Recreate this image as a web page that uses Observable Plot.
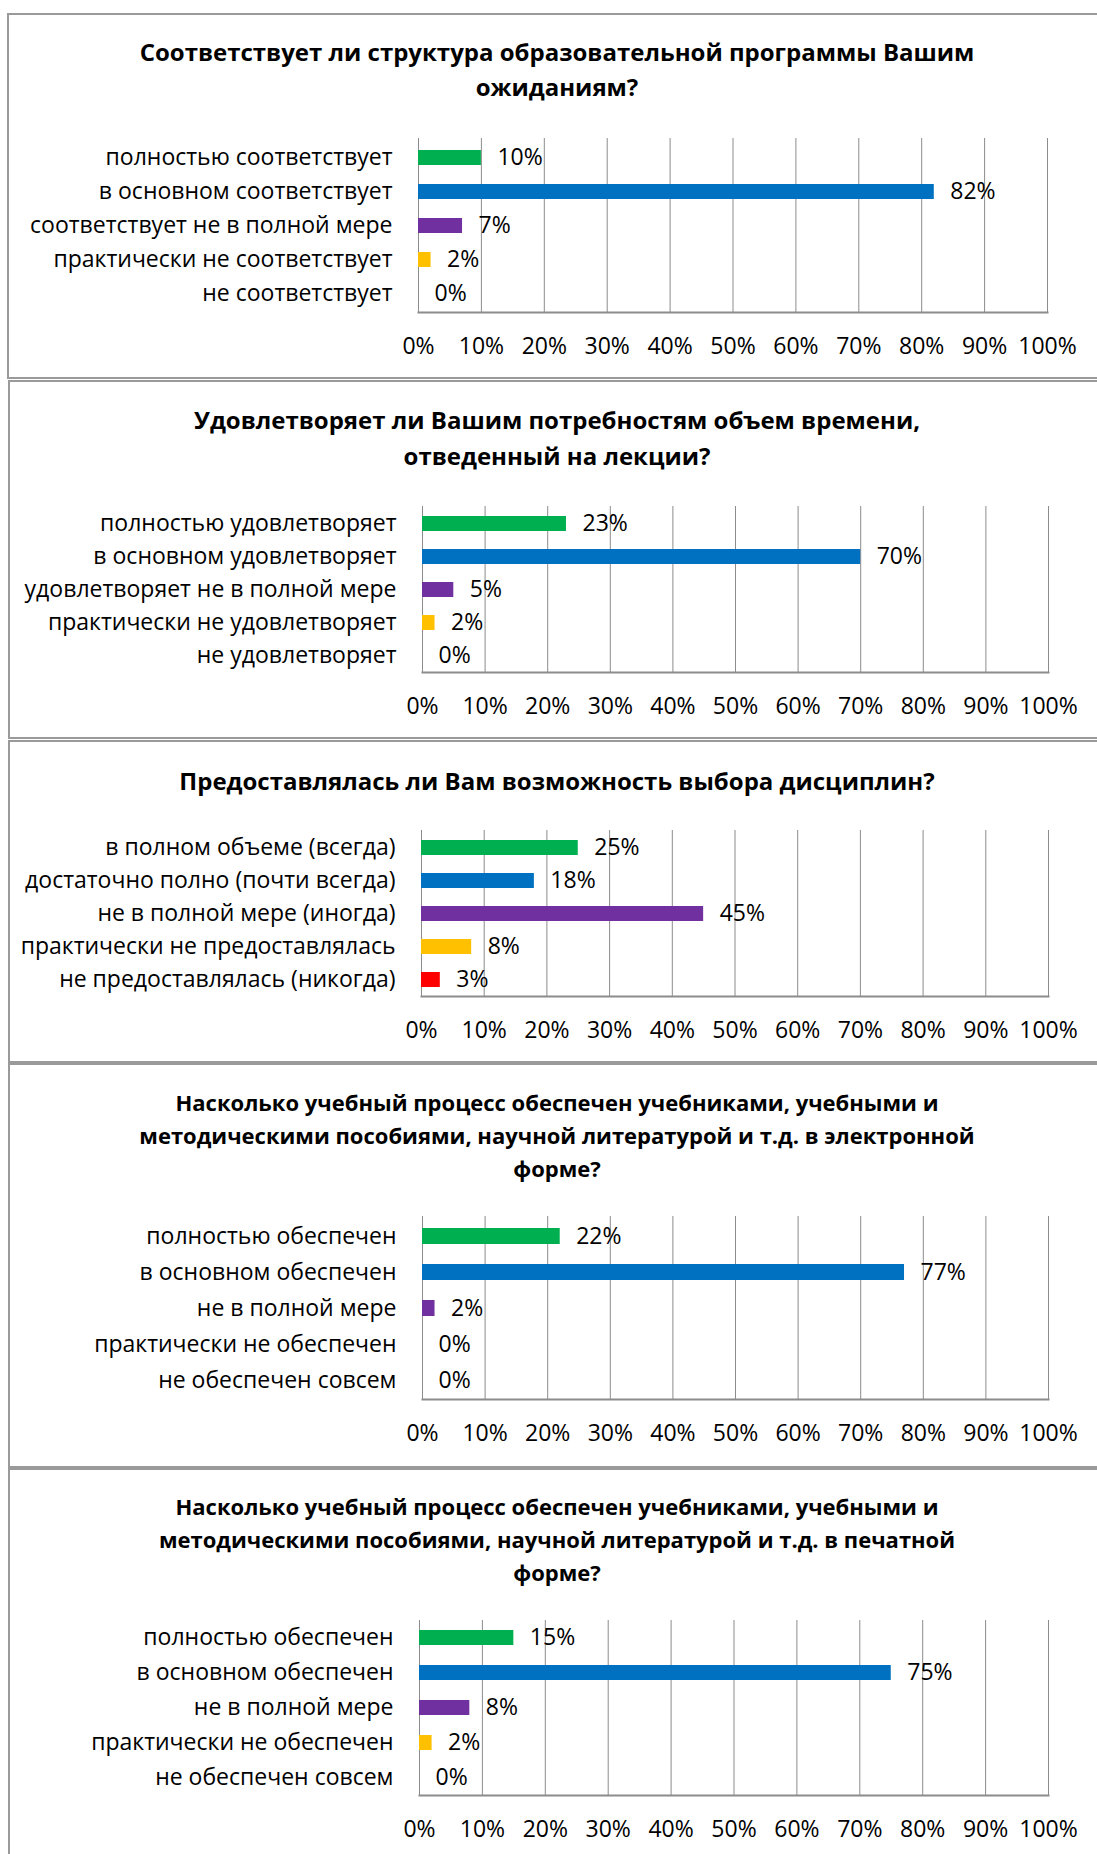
<!DOCTYPE html>
<html>
<head>
<meta charset="utf-8">
<script src="https://cdn.jsdelivr.net/npm/d3@7"></script>
<script src="https://cdn.jsdelivr.net/npm/@observablehq/plot@0.6"></script>
<style>
  body { margin: 0; background: #fff; }
  #root { position: relative; width: 1097px; height: 1854px; overflow: hidden; background: #fff; font-family: "Open Sans", sans-serif; color: #000; }
  .box { position: absolute; border: 2px solid #9a9a9a; box-sizing: border-box; }
  .title { position: absolute; left: 0; width: 1114px; text-align: center; font-weight: bold; white-space: pre; }
  .chart { position: absolute; left: 0; }
</style>
</head>
<body>
<div id="root"></div>
<script>
// ---- data ----
const ticks = [0, 10, 20, 30, 40, 50, 60, 70, 80, 90, 100];
const colors = ["#00b050", "#0070c0", "#7030a0", "#ffc000", "#ff0000"];

const title1 = ["Соответствует ли структура образовательной программы Вашим", "ожиданиям?"];
const cats1 = ["полностью соответствует", "в основном соответствует", "соответствует не в полной мере", "практически не соответствует", "не соответствует"];
const vals1 = [10, 82, 7, 2, 0];

const title2 = ["Удовлетворяет ли Вашим потребностям объем времени,", "отведенный на лекции?"];
const cats2 = ["полностью удовлетворяет", "в основном удовлетворяет", "удовлетворяет не в полной мере", "практически не удовлетворяет", "не удовлетворяет"];
const vals2 = [23, 70, 5, 2, 0];

const title3 = ["Предоставлялась ли Вам возможность выбора дисциплин?"];
const cats3 = ["в полном объеме (всегда)", "достаточно полно (почти всегда)", "не в полной мере (иногда)", "практически не предоставлялась", "не предоставлялась (никогда)"];
const vals3 = [25, 18, 45, 8, 3];

const title4 = ["Насколько учебный процесс обеспечен учебниками, учебными и", "методическими пособиями, научной литературой и т.д. в электронной", "форме?"];
const cats4 = ["полностью обеспечен", "в основном обеспечен", "не в полной мере", "практически не обеспечен", "не обеспечен совсем"];
const vals4 = [22, 77, 2, 0, 0];

const title5 = ["Насколько учебный процесс обеспечен учебниками, учебными и", "методическими пособиями, научной литературой и т.д. в печатной", "форме?"];
const cats5 = ["полностью обеспечен", "в основном обеспечен", "не в полной мере", "практически не обеспечен", "не обеспечен совсем"];
const vals5 = [15, 75, 8, 2, 0];

// ---- layout (pixel geometry of each panel) ----
const panels = [
  {title: title1, cats: cats1, vals: vals1, box: [7, 13, 366], tY: 51, tSize: 24, lh: 35, x0: 418, x1: 1047, y0: 138, y1: 312},
  {title: title2, cats: cats2, vals: vals2, box: [8, 380, 359], tY: 420, tSize: 24, lh: 36, x0: 422, x1: 1048, y0: 506, y1: 672},
  {title: title3, cats: cats3, vals: vals3, box: [8, 740, 323], tY: 781, tSize: 24, lh: 36, x0: 421, x1: 1048, y0: 830, y1: 996},
  {title: title4, cats: cats4, vals: vals4, box: [8, 1063, 405], tY: 1102, tSize: 22, lh: 33, x0: 422, x1: 1048, y0: 1216, y1: 1399},
  {title: title5, cats: cats5, vals: vals5, box: [8, 1468, 420], tY: 1506, tSize: 22, lh: 33, x0: 419, x1: 1048, y0: 1620, y1: 1795}
];

const root = document.getElementById("root");
const W = 1097, MT = 4, MB = 60, FS = 23;
const grid = "#8c8c8c";

for (const p of panels) {
  const box = document.createElement("div");
  box.className = "box";
  box.style.left = p.box[0] + "px";
  box.style.top = p.box[1] + "px";
  box.style.width = "1200px";
  box.style.height = p.box[2] + "px";
  root.appendChild(box);

  const t = document.createElement("div");
  t.className = "title";
  t.style.fontSize = p.tSize + "px";
  t.style.lineHeight = p.lh + "px";
  t.style.top = (p.tY - p.lh / 2) + "px";
  t.textContent = p.title.join("\n");
  root.appendChild(t);

  const data = p.cats.map((c, i) => ({c, v: p.vals[i], color: colors[i]}));
  const chart = Plot.plot({
    width: W,
    height: (p.y1 - p.y0) + MT + MB,
    marginLeft: p.x0,
    marginRight: W - p.x1,
    marginTop: MT,
    marginBottom: MB,
    style: {fontFamily: "Open Sans", fontSize: FS + "px", color: "#000", background: "transparent", overflow: "visible"},
    x: {domain: [0, 100]},
    y: {domain: p.cats, paddingInner: 0.56, paddingOuter: 0.28},
    color: {type: "identity"},
    marks: [
      Plot.ruleX(ticks, {stroke: grid, strokeWidth: 1}),
      Plot.frame({anchor: "bottom", stroke: grid, strokeWidth: 2}),
      Plot.barX(data, {x: "v", y: "c", fill: "color"}),
      Plot.text(data, {x: "v", y: "c", text: d => d.v + "%", dx: 16, textAnchor: "start", fill: "#000", fontSize: FS}),
      Plot.axisX({ticks, tickFormat: d => d + "%", tickSize: 0, tickPadding: 25, fontSize: FS, label: null}),
      Plot.axisY({tickSize: 0, tickPadding: 26, fontSize: FS, label: null})
    ]
  });
  chart.classList.add("chart");
  chart.style.top = (p.y0 - MT) + "px";
  root.appendChild(chart);
}
</script>
</body>
</html>
